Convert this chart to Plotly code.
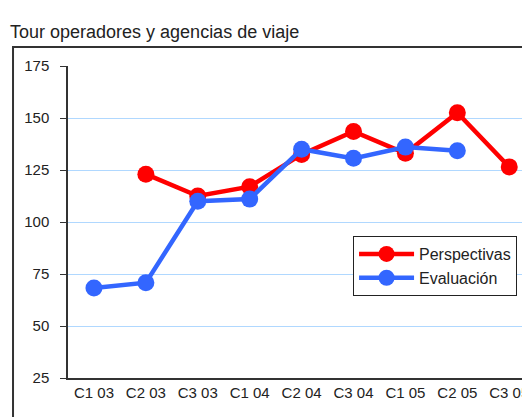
import plotly.graph_objects as go

categories = ["C1 03", "C2 03", "C3 03", "C1 04", "C2 04", "C3 04", "C1 05", "C2 05", "C3 05"]
perspectivas = [None, 123, 112.5, 117, 132.5, 143.5, 133, 152.5, 126.5]
evaluacion = [68.3, 70.8, 110, 111, 135, 130.6, 136, 134.3, None]
y_ticks = [25, 50, 75, 100, 125, 150, 175]

FONT = "Liberation Sans, Arial, sans-serif"

W, H = 522, 409

fig = go.Figure()
fig.add_trace(go.Scatter(
    x=categories, y=perspectivas, name="Perspectivas", mode="lines+markers",
    line=dict(color="#ff0000", width=4.5), marker=dict(size=17, color="#ff0000"),
    connectgaps=False, cliponaxis=False))
fig.add_trace(go.Scatter(
    x=categories, y=evaluacion, name="Evaluación", mode="lines+markers",
    line=dict(color="#3366ff", width=4.5), marker=dict(size=17, color="#3366ff"),
    connectgaps=False, cliponaxis=False))

fig.update_layout(
    width=W, height=H,
    margin=dict(l=60, r=0, t=58, b=39),
    paper_bgcolor="white", plot_bgcolor="white",
    font=dict(family=FONT, size=15, color="#222222"),
    title=dict(text="Tour operadores y agencias de viaje", x=2 / W, xanchor="left",
               y=1 - 24 / H, yanchor="middle", font=dict(family=FONT, size=18, color="#222222")),
    xaxis=dict(type="category", range=[-0.5, 8.4], showgrid=False,
               showline=True, linecolor="#333333", linewidth=1.5, ticks="",
               tickfont=dict(size=15), fixedrange=True),
    yaxis=dict(range=[25, 175], tickvals=y_ticks, showgrid=True, gridcolor="#b0d8ff",
               gridwidth=1, showline=True, linecolor="#333333", linewidth=1.5,
               ticks="outside", ticklen=6, tickcolor="#333333", tickfont=dict(size=15),
               ticklabelstandoff=8, zeroline=False),
    legend=dict(x=0.617, y=0.455, xanchor="left", yanchor="top",
                bordercolor="#222222", borderwidth=1, bgcolor="white",
                font=dict(size=16), itemwidth=55, tracegroupgap=0),
    showlegend=True,
)

fig.add_shape(type="rect", xref="paper", yref="paper",
              x0=-0.119, x1=1.2, y0=-0.5, y1=1.061,
              line=dict(color="#333333", width=2), fillcolor="rgba(0,0,0,0)", layer="below")

fig.write_html("out.html")
